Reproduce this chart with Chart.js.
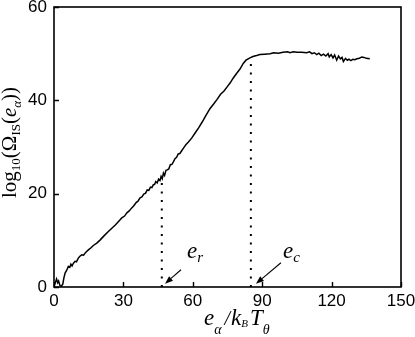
<!DOCTYPE html>
<html>
<head>
<meta charset="utf-8">
<script src="https://cdn.jsdelivr.net/npm/chart.js@4"></script>
<style>
html,body{margin:0;padding:0;background:#fff;}
canvas{display:block;}
</style>
</head>
<body>
<canvas id="c" width="415" height="337"></canvas>
<script>
// ---- data ----
const curveX = [0,0.5,1.1,1.6,2.0,2.6,3.2,3.8,4.3,4.8,5.5,6.2,6.8,7.3,7.8,8.4,9.1,9.7,10.5,11.2,12.0,12.8,13.5,14.1,15,16,17,18.5,20,21.5,23.5,25,26.5,28,29.3,30.5,31.5,32.5,33.5,34.5,35.5,36.3,37.2,38,38.8,39.6,40.3,41,41.7,42.3,42.9,43.5,44,44.6,45.2,45.8,46.3,46.8,47.3,47.8,48.4,49,49.6,50.3,51,51.6,52.3,53,53.7,54.4,55.2,55.9,57,58,59.5,61,62.5,64,65.5,67.4,69,70.5,72,73.5,75,76.1,77.5,79,80.4,81.8,83,84.7,86,87.6,89,91,93.4,95,97,99,101,102,103.5,105,107,109.2,110.5,111.5,112.5,113.6,114.5,115.5,116.5,117.5,118.5,119,119.8,120.6,121.3,122.2,123,123.8,124.5,125.1,126,126.8,127.5,128.3,129.2,130,131,132,133,134,135,136.5];
const curveY = [0.2,0.8,1.7,0.9,1.3,0.3,0.2,0.6,2.0,3.0,3.6,4.4,4.2,4.9,4.5,5.1,5.5,5.4,6.2,6.6,6.9,6.8,7.3,7.6,8.0,8.4,8.9,9.4,10.1,10.9,11.9,12.6,13.3,14.1,14.8,15.2,15.9,16.3,16.9,17.4,18.1,18.4,19.1,19.3,19.9,20.1,20.8,20.7,21.4,21.3,21.9,22.0,22.6,22.3,23.1,22.8,23.7,23.2,24.4,23.9,25.0,25.1,25.3,26.2,26.3,26.8,27.5,27.8,28.5,28.6,29.2,29.7,30.5,31.0,31.9,33.0,34.1,35.3,36.6,38.2,39.2,40.2,41.3,42.0,43.0,43.7,44.8,45.8,46.7,47.9,48.6,49.1,49.4,49.6,49.8,49.9,50.0,50.2,50.1,50.3,50.4,50.2,50.4,50.3,50.3,50.2,50.4,50.0,50.2,49.8,50.1,49.6,49.9,49.5,50.0,49.3,49.8,49.1,49.7,48.6,49.5,48.9,49.2,48.3,49.0,48.6,48.8,48.5,48.8,48.7,48.9,49.0,49.3,49.2,49.0,48.9];

const xTicks = [0,30,60,90,120,150];
const yTicks = [0,20,40,60];

// dotted marker lines (e_r, e_c)
const markerX   = [46.6, 85.1];
const markerTop = [23.0, 48.6];

// arrows (from -> to, in data units)
const arrowFromX = [54.9, 98.1];
const arrowFromY = [3.7, 5.2];
const arrowToX   = [48.0, 87.3];
const arrowToY   = [0.7, 0.7];

// annotation labels
const annotMain = ['e','e'];
const annotSub  = ['r','c'];
const annotX    = [57.5, 99.0];
const annotY    = [6.3, 6.3];

// ---- chart ----
const SERIF = '"Liberation Serif", "Times New Roman", serif';
const SANS  = '"Liberation Sans", Arial, sans-serif';

const datasets = [{
  data: curveX.map((v,i)=>({x:v, y:curveY[i]})),
  borderColor:'#000', borderWidth:1.5, pointRadius:0, tension:0, fill:false
}];
markerX.forEach((mx,i)=>{
  datasets.push({
    data:[{x:mx,y:0},{x:mx,y:markerTop[i]}],
    borderColor:'#000', borderWidth:2, borderDash:[2,6.5], pointRadius:0, fill:false
  });
});

function richWidth(ctx, segs){
  let w=0; segs.forEach(s=>{ctx.font=s.f; w+=ctx.measureText(s.t).width+(s.gap||0);}); return w;
}
function drawRich(ctx, segs, x, y){
  let cx=x;
  segs.forEach(s=>{ctx.font=s.f; ctx.fillText(s.t, cx, y+(s.dy||0)); cx+=ctx.measureText(s.t).width+(s.gap||0);});
}

const overlay = {
  id:'overlay',
  afterDraw(chart){
    const {ctx, chartArea:a, scales:{x,y}} = chart;
    ctx.save();
    ctx.strokeStyle='#000'; ctx.fillStyle='#000';
    // frame
    ctx.lineWidth=1.6;
    ctx.strokeRect(a.left, a.top, a.right-a.left, a.bottom-a.top);
    // inward ticks
    ctx.lineWidth=1.4;
    ctx.beginPath();
    xTicks.forEach(v=>{const p=Math.round(x.getPixelForValue(v))+0.5; ctx.moveTo(p,a.bottom); ctx.lineTo(p,a.bottom-5);});
    yTicks.forEach(v=>{const p=Math.round(y.getPixelForValue(v))+0.5; ctx.moveTo(a.left,p); ctx.lineTo(a.left+5,p);});
    ctx.stroke();
    // arrows
    ctx.lineWidth=1.1;
    arrowFromX.forEach((fx,i)=>{
      const x1=x.getPixelForValue(fx), y1=y.getPixelForValue(arrowFromY[i]);
      const x2=x.getPixelForValue(arrowToX[i]), y2=y.getPixelForValue(arrowToY[i]);
      const ang=Math.atan2(y2-y1,x2-x1), L=8, W=3;
      const bx=x2-L*Math.cos(ang), by=y2-L*Math.sin(ang);
      ctx.beginPath(); ctx.moveTo(x1,y1); ctx.lineTo(bx,by); ctx.stroke();
      ctx.beginPath();
      ctx.moveTo(x2,y2);
      ctx.lineTo(bx+W*Math.sin(ang), by-W*Math.cos(ang));
      ctx.lineTo(bx-W*Math.sin(ang), by+W*Math.cos(ang));
      ctx.closePath(); ctx.fill();
    });
    // annotation labels
    ctx.textBaseline='alphabetic'; ctx.textAlign='left';
    annotMain.forEach((t,i)=>{
      drawRich(ctx,[
        {t:t, f:'italic 23px '+SERIF},
        {t:annotSub[i], f:'italic 15px '+SERIF, dy:4}
      ], x.getPixelForValue(annotX[i]), y.getPixelForValue(annotY[i]));
    });
    // x title
    const xt=[
      {t:'e', f:'italic 23px '+SERIF},
      {t:'α', f:'italic 14px '+SERIF, dy:9, gap:3},
      {t:'/', f:'italic 20px '+SERIF, gap:1},
      {t:'k', f:'italic 23px '+SERIF},
      {t:'B', f:'italic 11px '+SERIF, dy:2, gap:2},
      {t:'T', f:'italic 23px '+SERIF},
      {t:'θ', f:'italic 14px '+SERIF, dy:9}
    ];
    drawRich(ctx, xt, 204, 325);
    // y title (rotated)
    const yt=[
      {t:'log', f:'21px '+SERIF},
      {t:'10', f:'13px '+SERIF, dy:4},
      {t:'(Ω', f:'21px '+SERIF},
      {t:'IS', f:'13px '+SERIF, dy:4},
      {t:'(', f:'21px '+SERIF},
      {t:'e', f:'italic 21px '+SERIF},
      {t:'α', f:'italic 13px '+SERIF, dy:5},
      {t:'))', f:'21px '+SERIF}
    ];
    ctx.translate(16, 142.5);
    ctx.rotate(-Math.PI/2);
    drawRich(ctx, yt, -richWidth(ctx,yt)/2, 0);
    ctx.restore();
  }
};

new Chart(document.getElementById('c'), {
  type:'line',
  data:{datasets},
  options:{
    responsive:false, animation:false,
    plugins:{legend:{display:false}, tooltip:{enabled:false}},
    layout:{padding:{left:0, top:7, right:14, bottom:0}},
    scales:{
      x:{
        type:'linear', min:0, max:150,
        afterBuildTicks:s=>{s.ticks=xTicks.map(v=>({value:v}));},
        afterFit:s=>{s.height=50; s.paddingLeft=0; s.paddingRight=0;},
        grid:{display:false, drawTicks:false}, border:{display:false},
        ticks:{color:'#000', font:{family:SANS, size:17}, padding:4, maxRotation:0, autoSkip:false}
      },
      y:{
        type:'linear', min:0, max:60,
        afterBuildTicks:s=>{s.ticks=yTicks.map(v=>({value:v}));},
        afterFit:s=>{s.width=54; s.paddingTop=0; s.paddingBottom=0;},
        grid:{display:false, drawTicks:false}, border:{display:false},
        ticks:{color:'#000', font:{family:SANS, size:17}, padding:7, autoSkip:false}
      }
    }
  },
  plugins:[overlay]
});
</script>
</body>
</html>
